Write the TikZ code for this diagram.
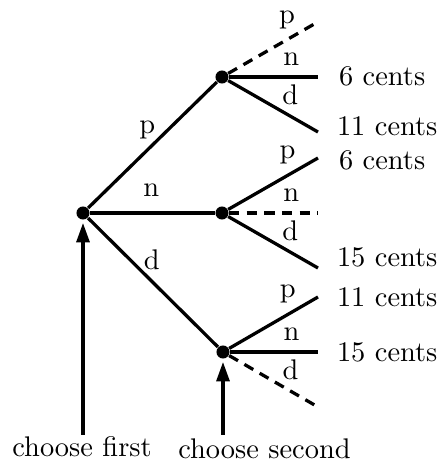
\documentclass[tikz,border=0pt]{standalone}
\usepackage{tikz}
\usetikzlibrary{arrows.meta}
\definecolor{ink}{RGB}{0,0,0}
\tikzset{
  dot/.style={circle, fill=ink, inner sep=0pt, minimum size=4.6pt},
  branch/.style={line width=1.15pt, draw=ink},
  dashbranch/.style={line width=1.15pt, draw=ink, dash pattern=on 3.6pt off 2.6pt},
  lbl/.style={text=ink, inner sep=3.33pt},
  cents/.style={anchor=west, text=ink, inner sep=3.33pt},
  pointer/.style={-{Triangle[length=2.4mm,width=1.6mm]}, line width=1.15pt, draw=ink,
    shorten >=1pt},
}
\begin{document}
\begin{tikzpicture}[x=1.237mm,y=1.237mm]
  \useasboundingbox (0,0) rectangle (44.2,46.3);
  % choice points
  \node[dot] (root) at (8.3,25) {};
  \node[dot] (afterp) at (22.2,38.6) {};
  \node[dot] (aftern) at (22.2,25) {};
  \node[dot] (afterd) at (22.3,11.1) {};
  % ends of the second choice
  \coordinate (pp) at (31.6,44.0);
  \coordinate (pn) at (31.8,38.6);
  \coordinate (pd) at (31.8,33.1);
  \coordinate (np) at (31.8,30.5);
  \coordinate (nn) at (31.8,25);
  \coordinate (nd) at (31.8,19.5);
  \coordinate (dp) at (31.8,16.6);
  \coordinate (dn) at (31.8,11.1);
  \coordinate (dd) at (31.8,5.6);
  % first coin
  \draw[branch] (root) -- (afterp) node[lbl,pos=0.46,above] {p};
  \draw[branch] (root) -- (aftern) node[lbl,pos=0.49,above=2pt] {n};
  \draw[branch] (root) -- (afterd) node[lbl,pos=0.49,above] {d};
  % second coin
  \draw[dashbranch] (afterp) -- (pp) node[lbl,pos=0.67,above] {p};
  \draw[branch] (afterp) -- (pn) node[lbl,pos=0.7,above] {n};
  \draw[branch] (afterp) -- (pd) node[lbl,pos=0.69,above] {d};
  \draw[branch] (aftern) -- (np) node[lbl,pos=0.66,above] {p};
  \draw[dashbranch] (aftern) -- (nn) node[lbl,pos=0.7,above] {n};
  \draw[branch] (aftern) -- (nd) node[lbl,pos=0.69,above] {d};
  \draw[branch] (afterd) -- (dp) node[lbl,pos=0.66,above] {p};
  \draw[branch] (afterd) -- (dn) node[lbl,pos=0.7,above] {n};
  \draw[dashbranch] (afterd) -- (dd) node[lbl,pos=0.69,above] {d};
  % totals
  \node[cents] (pntot) at (32.9,38.7) {6 cents};
  \node[cents] (pdtot) at (32.7,33.7) {11 cents};
  \node[cents] (nptot) at (32.9,30.3) {6 cents};
  \node[cents] (ndtot) at (32.7,20.6) {15 cents};
  \node[cents] (dptot) at (32.7,16.6) {11 cents};
  \node[cents] (dntot) at (32.7,11.1) {15 cents};
  % stages
  \node[lbl] (first) at (8.2,1.6) {choose first};
  \node[lbl] (second) at (26.45,1.4) {choose second};
  \coordinate (firstfoot) at (8.3,2.8);
  \coordinate (secondfoot) at (22.3,2.8);
  \draw[pointer] (firstfoot) -- (root);
  \draw[pointer] (secondfoot) -- (afterd);
\end{tikzpicture}
\end{document}
